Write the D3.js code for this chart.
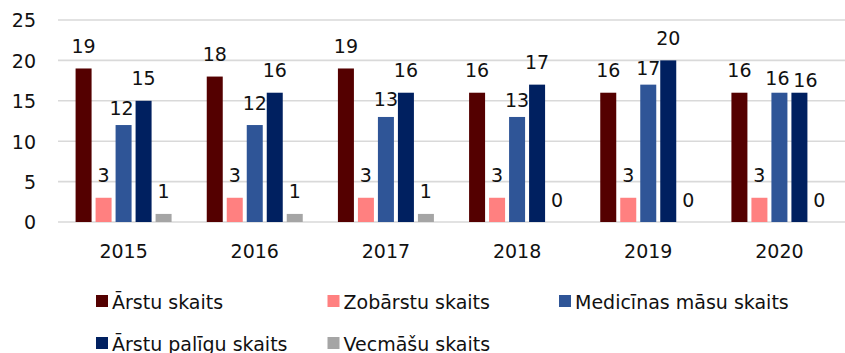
<!DOCTYPE html>
<html>
<head>
<meta charset="utf-8">
<script src="https://cdn.jsdelivr.net/npm/d3@7"></script>
<style>
  html, body { margin: 0; padding: 0; background: #fff; }
  svg { display: block; }
  text { font-family: "DejaVu Sans", sans-serif; fill: #111; }
</style>
</head>
<body>
<svg id="chart" width="845" height="353"></svg>
<script>
// Healthcare staff counts per year
const years = ["2015", "2016", "2017", "2018", "2019", "2020"];
const seriesNames = ["Ārstu skaits", "Zobārstu skaits", "Medicīnas māsu skaits", "Ārstu palīgu skaits", "Vecmāšu skaits"];
const arstu       = [19, 18, 19, 16, 16, 16];
const zobarstu    = [3, 3, 3, 3, 3, 3];
const masu        = [12, 12, 13, 13, 17, 16];
const paligu      = [15, 16, 16, 17, 20, 16];
const vecmasu     = [1, 1, 1, 0, 0, 0];
const yTicks      = [0, 5, 10, 15, 20, 25];
const colors      = ["#540000", "#ff8080", "#2f5597", "#002060", "#a5a5a5"];

// Hand-placed label nudges [series, year index, dx, dy] so crowded labels don't collide
const labelNudges = [
  [2, 0, -2, 5], [2, 2, 0, 5], [2, 3, 0, 6], [2, 4, 0, 6], [2, 5, -2, 8], [3, 5, 6, 10]
];

const seriesValues = [arstu, zobarstu, masu, paligu, vecmasu];

const svg = d3.select("#chart");
const plot = { left: 58, right: 845, top: 20, bottom: 222 };
const fs = 19;

const y = d3.scaleLinear().domain([0, 25]).range([plot.bottom, plot.top]);
const x0 = d3.scaleBand().domain(years).range([plot.left, plot.right]).paddingInner(0).paddingOuter(0);
const x1 = d3.scaleBand().domain(d3.range(seriesNames.length)).range([-50, 50]).paddingInner(0.2).paddingOuter(0.1);

// Gridlines
svg.append("g")
  .selectAll("line")
  .data(yTicks)
  .join("line")
  .attr("x1", plot.left).attr("x2", plot.right)
  .attr("y1", d => y(d)).attr("y2", d => y(d))
  .attr("stroke", "#d9d9d9").attr("stroke-width", 1.6);

// Y axis labels
const yAxis = d3.axisLeft(y).tickValues(yTicks).tickSize(0).tickPadding(0);
const yg = svg.append("g").attr("transform", "translate(36,0)").call(yAxis);
yg.select(".domain").remove();
yg.selectAll("text").attr("font-size", fs).attr("font-family", null).attr("fill", null).attr("dy", "0.36em");

// X axis labels
const xAxis = d3.axisBottom(x0).tickSize(0).tickPadding(0);
const xg = svg.append("g").attr("transform", `translate(0,${plot.bottom})`).call(xAxis);
xg.select(".domain").remove();
xg.selectAll("text").attr("font-size", fs).attr("font-family", null).attr("fill", null).attr("dy", null).attr("y", 36);

// Bars
const flat = [];
years.forEach((yr, j) => seriesValues.forEach((vals, i) => flat.push({ yr, j, i, v: vals[j] })));

const groups = svg.append("g");
const cx = d => x0(d.yr) + x0.bandwidth() / 2;

groups.selectAll("rect")
  .data(flat)
  .join("rect")
  .attr("x", d => cx(d) + x1(d.i))
  .attr("width", x1.bandwidth())
  .attr("y", d => y(d.v))
  .attr("height", d => y(0) - y(d.v))
  .attr("fill", d => colors[d.i]);

// Value labels
const nudge = (d) => labelNudges.find(n => n[0] === d.i && n[1] === d.j) || [0, 0, 0, 0];
groups.selectAll("text")
  .data(flat)
  .join("text")
  .attr("x", d => cx(d) + x1(d.i) + x1.bandwidth() / 2 + nudge(d)[2])
  .attr("y", d => y(d.v) - 15.5 + nudge(d)[3])
  .attr("text-anchor", "middle")
  .attr("font-size", fs)
  .text(d => d.v);

// Legend
const legendItems = seriesNames.map((name, i) => ({ name, i, col: i % 3, row: Math.floor(i / 3) }));
const legend = svg.append("g")
  .selectAll("g")
  .data(legendItems)
  .join("g")
  .attr("transform", d => `translate(${96 + d.col * 231.5},${295 + d.row * 42})`);
legend.append("rect").attr("width", 12).attr("height", 12).attr("fill", d => colors[d.i]);
legend.append("text").attr("x", 16).attr("y", 13.5).attr("font-size", fs).text(d => d.name);
</script>
</body>
</html>
